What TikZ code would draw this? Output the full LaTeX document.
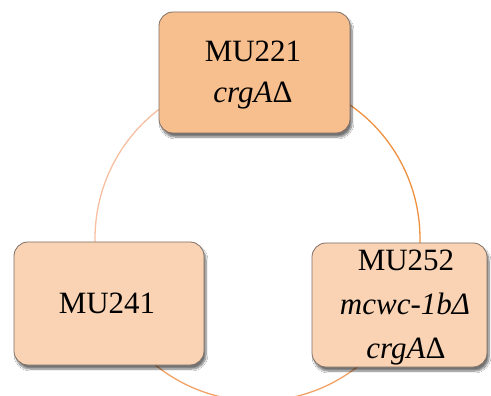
\documentclass[tikz,border=0pt]{standalone}
\usepackage{fontspec}
\setmainfont{Liberation Serif}
\usetikzlibrary{shadows.blur}
\definecolor{boxdark}{HTML}{F7BE8E}
\definecolor{boxlight}{HTML}{F9D3B3}
\definecolor{boxedge}{HTML}{7F7068}
\definecolor{arcpale}{HTML}{F8C0A0}
\definecolor{arcdeep}{HTML}{EF913F}
\definecolor{arcmid}{HTML}{F3A266}
\tikzset{
  strain/.style={draw=boxedge, line width=0.8pt, rounded corners=14pt,
    blur shadow={shadow xshift=2pt, shadow yshift=-4pt, shadow blur steps=8, shadow opacity=55}},
  label/.style={anchor=base, inner sep=0pt, font=\fontsize{31}{36}\selectfont},
  ring/.style={line width=1.3pt}
}
\begin{document}
\begin{tikzpicture}[x=1pt, y=-1pt]
\useasboundingbox (0,0) rectangle (491,396);
\clip (0,0) rectangle (491,396);
\fill[white] (0,0) rectangle (491,396);
\coordinate (hub) at (257.5,238.6);
% ring segments between the strains
\draw[ring, arcpale] (hub) ++(-120:162.5) arc[start angle=-120, end angle=-182, radius=162.5];
\draw[ring, arcdeep] (hub) ++(-60:162.5) arc[start angle=-60, end angle=3, radius=162.5];
\draw[ring, arcmid] (hub) ++(48:162.5) arc[start angle=48, end angle=132, radius=162.5];
% strain boxes
\path[strain, fill=boxdark] (159,12) rectangle (350,133);
\path[strain, fill=boxlight] (14,242) rectangle (204,365);
\path[strain, fill=boxlight] (312,243) rectangle (487,367);
\node (top) at (254.5,72.5) {};
\node (left) at (109,303.5) {};
\node (right) at (399.5,305) {};
% labels
\node[label] (t1) at (253,62) {MU221};
\node[label] (t2) at (253,103) {\textit{crgA}Δ};
\node[label] (l1) at (107,313) {MU241};
\node[label] (r1) at (406,270) {MU252};
\node[label] (r2) at (405,314) {\itshape mcwc-1bΔ};
\node[label] (r3) at (406,358) {\textit{crgA}Δ};
\end{tikzpicture}
\end{document}
